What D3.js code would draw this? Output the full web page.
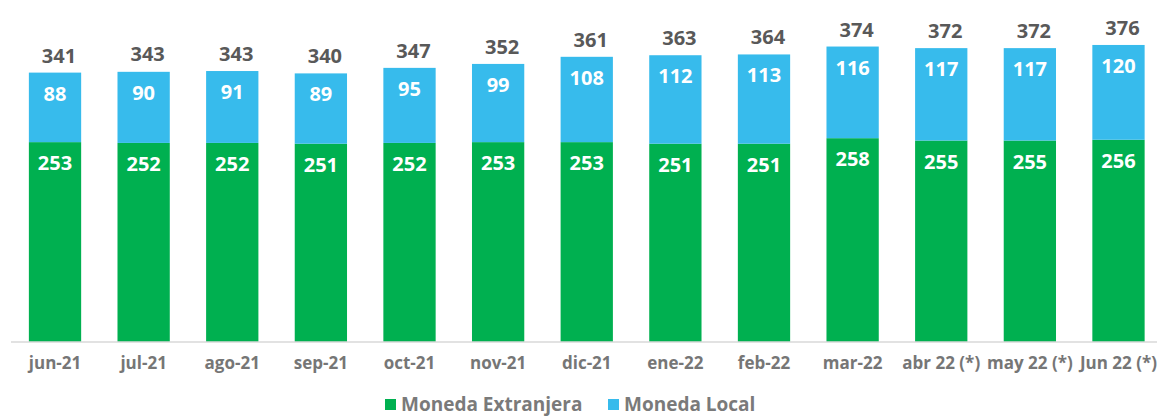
<!DOCTYPE html>
<html>
<head>
<meta charset="utf-8">
<script src="https://cdn.jsdelivr.net/npm/d3@7"></script>
<style>
  html, body { margin: 0; padding: 0; background: #fff; }
  svg { display: block; font-family: "Open Sans", "Noto Sans", sans-serif; }
</style>
</head>
<body>
<svg id="chart" width="1157" height="417"></svg>
<script>
const categories = ["jun-21","jul-21","ago-21","sep-21","oct-21","nov-21","dic-21","ene-22","feb-22","mar-22","abr 22 (*)","may 22 (*)","Jun 22 (*)"];
const monedaExtranjera = [253,252,252,251,252,253,253,251,251,258,255,255,256];
const monedaLocal = [88,90,91,89,95,99,108,112,113,116,117,117,120];
const totals = [341,343,343,340,347,352,361,363,364,374,372,372,376];
const seriesNames = ["Moneda Extranjera","Moneda Local"];
const seriesColors = ["#00b050","#37bbec"];

const svg = d3.select("#chart");
const baseY = 342;

const x = d3.scaleBand().domain(categories).range([10.7, 1162.8]).paddingInner(0.41).paddingOuter(0.205);
const y = d3.scaleLinear().domain([0, 400]).range([baseY, baseY - 316]);

const rows = categories.map((c, i) => ({ cat: c, ext: monedaExtranjera[i], loc: monedaLocal[i], total: totals[i] }));

// bars
const g = svg.append("g");
g.selectAll("rect.ext").data(rows).join("rect")
  .attr("x", d => x(d.cat)).attr("width", x.bandwidth())
  .attr("y", d => y(d.ext)).attr("height", d => y(0) - y(d.ext))
  .attr("fill", seriesColors[0]);
g.selectAll("rect.loc").data(rows).join("rect")
  .attr("x", d => x(d.cat)).attr("width", x.bandwidth())
  .attr("y", d => y(d.ext + d.loc)).attr("height", d => y(d.ext) - y(d.ext + d.loc))
  .attr("fill", seriesColors[1]);

// axis
const xAxis = d3.axisBottom(x).tickSize(0).tickPadding(15);
const ax = svg.append("g").attr("transform", `translate(0,${baseY})`).call(xAxis);
ax.select(".domain").attr("stroke", "#d9d9d9").attr("stroke-width", 1.5)
  .attr("d", `M11,0H1157`);
ax.selectAll("text").attr("fill", "#767676").style("font-size", "17px").style("font-weight", "bold")
  .style("font-family", '"Open Sans", sans-serif');

// inside labels
const lab = svg.append("g").attr("font-size", 20).attr("font-weight", "bold").attr("fill", "#fff").attr("text-anchor", "middle");
lab.selectAll("text.e").data(rows).join("text")
  .attr("x", d => x(d.cat) + x.bandwidth() / 2)
  .attr("y", d => y(d.ext) + 28)
  .text(d => d.ext);
lab.selectAll("text.l").data(rows).join("text")
  .attr("x", d => x(d.cat) + x.bandwidth() / 2)
  .attr("y", d => y(d.ext + d.loc) + 28)
  .text(d => d.loc);

// totals
svg.append("g").attr("font-size", 20).attr("font-weight", "bold").attr("fill", "#595959").attr("text-anchor", "middle")
  .selectAll("text").data(rows).join("text")
  .attr("x", d => x(d.cat) + x.bandwidth() / 2 + 4)
  .attr("y", d => y(d.total) - 10)
  .text(d => d.total);

// legend
const leg = svg.append("g").attr("transform", "translate(385,411)");
const items = [{ name: seriesNames[0], color: seriesColors[0], dx: 0 }, { name: seriesNames[1], color: seriesColors[1], dx: 223 }];
const li = leg.selectAll("g").data(items).join("g").attr("transform", d => `translate(${d.dx},0)`);
li.append("rect").attr("x", 0).attr("y", -12).attr("width", 11).attr("height", 11).attr("fill", d => d.color);
li.append("text").attr("x", 16).attr("y", 0).attr("font-size", 19).attr("font-weight", "bold").attr("fill", "#7a7a7a").text(d => d.name);
</script>
</body>
</html>
